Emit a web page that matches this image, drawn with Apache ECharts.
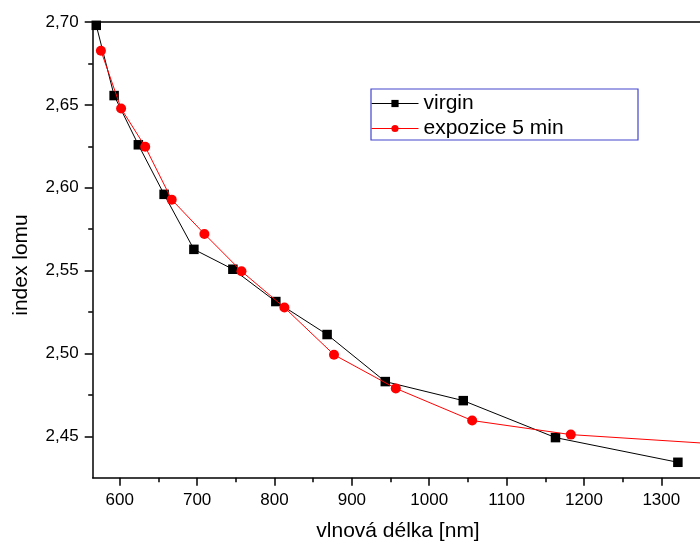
<!DOCTYPE html>
<html>
<head>
<meta charset="utf-8">
<title>index lomu</title>
<script src="https://cdn.jsdelivr.net/npm/echarts@6/dist/echarts.min.js"></script>
<style>
  html, body { margin: 0; padding: 0; background: #fff; }
  #chart { width: 700px; height: 546px; }
</style>
</head>
<body>
<div id="chart"></div>
<script>
// Refractive index vs. wavelength, before and after 5 min exposure
const wavelengthVirgin = [569.6, 592.7, 624.0, 657.3, 695.8, 746.2, 801.7, 868.0, 943.2, 1044.0, 1163.2, 1321.4];
const indexVirgin      = [2.698, 2.6556, 2.6259, 2.596, 2.5628, 2.5508, 2.5313, 2.5114, 2.483, 2.4715, 2.4492, 2.4343];

const wavelengthExpo = [575.6, 601.7, 632.9, 667.1, 709.4, 757.3, 812.8, 876.9, 956.8, 1055.5, 1183.0, 1400.0];
const indexExpo      = [2.6827, 2.6478, 2.6247, 2.5928, 2.5721, 2.5496, 2.5277, 2.4992, 2.4789, 2.4595, 2.4510, 2.4445];

const xMajorTicks = [600, 700, 800, 900, 1000, 1100, 1200, 1300];
const xMinorTicks = [650, 750, 850, 950, 1050, 1150, 1250];
const yMajorTicks = [2.45, 2.50, 2.55, 2.60, 2.65, 2.70];
const yMinorTicks = [2.475, 2.525, 2.575, 2.625, 2.675];

const seriesNames = ['virgin', 'expozice 5 min'];
const xTitle = 'vlnová délka [nm]';
const yTitle = 'index lomu';

const FONT = "'Liberation Sans', Arial, sans-serif";
const X_MIN = 565, X_MAX = 1350, Y_MIN = 2.425, Y_MAX = 2.70;

function zip(xs, ys) { return xs.map((x, i) => [x, ys[i]]); }

const lineStyleAxis = { color: '#000', width: 1.5 };

const chart = echarts.init(document.getElementById('chart'), null, { renderer: 'canvas' });

chart.setOption({
  animation: false,
  backgroundColor: '#fff',
  grid: { left: 92.7, right: -5.3, top: 22, bottom: 68.3, containLabel: false },
  legend: {
    left: 371,
    top: 93,
    orient: 'vertical',
    padding: 0,
    itemGap: 4,
    itemWidth: 47,
    itemHeight: 9,
    data: seriesNames,
    lineStyle: { width: 1 },
    textStyle: { fontFamily: FONT, fontSize: 21, color: '#000', lineHeight: 20 }
  },
  xAxis: [
    {
      type: 'value', position: 'bottom', min: X_MIN, max: X_MAX,
      splitLine: { show: false },
      axisLine: { show: true, onZero: false, lineStyle: lineStyleAxis },
      axisTick: { show: true, inside: false, length: 8, lineStyle: lineStyleAxis, customValues: xMajorTicks },
      axisLabel: { show: true, margin: 14, color: '#000', fontFamily: FONT, fontSize: 17,
                   customValues: xMajorTicks, formatter: v => String(v) }
    },
    {
      type: 'value', position: 'bottom', min: X_MIN, max: X_MAX,
      splitLine: { show: false },
      axisLine: { show: false },
      axisTick: { show: true, inside: false, length: 4.5, lineStyle: lineStyleAxis, customValues: xMinorTicks },
      axisLabel: { show: false }
    },
    {
      type: 'value', position: 'top', min: X_MIN, max: X_MAX,
      splitLine: { show: false },
      axisLine: { show: true, onZero: false, lineStyle: lineStyleAxis },
      axisTick: { show: false },
      axisLabel: { show: false }
    }
  ],
  yAxis: [
    {
      type: 'value', position: 'left', min: Y_MIN, max: Y_MAX,
      splitLine: { show: false },
      axisLine: { show: true, onZero: false, lineStyle: lineStyleAxis },
      axisTick: { show: true, inside: false, length: 8, lineStyle: lineStyleAxis, customValues: yMajorTicks },
      axisLabel: { show: true, margin: 14, color: '#000', fontFamily: FONT, fontSize: 17,
                   customValues: yMajorTicks, formatter: v => v.toFixed(2).replace('.', ',') }
    },
    {
      type: 'value', position: 'left', min: Y_MIN, max: Y_MAX,
      splitLine: { show: false },
      axisLine: { show: false },
      axisTick: { show: true, inside: false, length: 4.5, lineStyle: lineStyleAxis, customValues: yMinorTicks },
      axisLabel: { show: false }
    }
  ],
  graphic: [
    {
      type: 'rect',
      shape: { x: 371, y: 89, width: 267, height: 51 },
      style: { fill: 'none', stroke: '#4444cc', lineWidth: 1.2 },
      z: 10
    },
    {
      type: 'text',
      x: 398, y: 531,
      style: { text: xTitle, font: '21px ' + FONT, fill: '#000', align: 'center', verticalAlign: 'middle' }
    },
    {
      type: 'text',
      x: 21, y: 265, rotation: Math.PI / 2,
      style: { text: yTitle, font: '21px ' + FONT, fill: '#000', align: 'center', verticalAlign: 'middle' }
    }
  ],
  series: [
    {
      name: seriesNames[0],
      type: 'line',
      xAxisIndex: 0, yAxisIndex: 0,
      data: zip(wavelengthVirgin, indexVirgin),
      symbol: 'rect', symbolSize: 9.5,
      showAllSymbol: true,
      lineStyle: { color: '#000', width: 1 },
      itemStyle: { color: '#000' },
      clip: true,
      z: 3
    },
    {
      name: seriesNames[1],
      type: 'line',
      xAxisIndex: 0, yAxisIndex: 0,
      data: zip(wavelengthExpo, indexExpo),
      symbol: 'circle', symbolSize: 10,
      showAllSymbol: true,
      lineStyle: { color: '#ff0000', width: 1 },
      itemStyle: { color: '#ff0000' },
      clip: true,
      z: 4
    }
  ]
});
</script>
</body>
</html>
